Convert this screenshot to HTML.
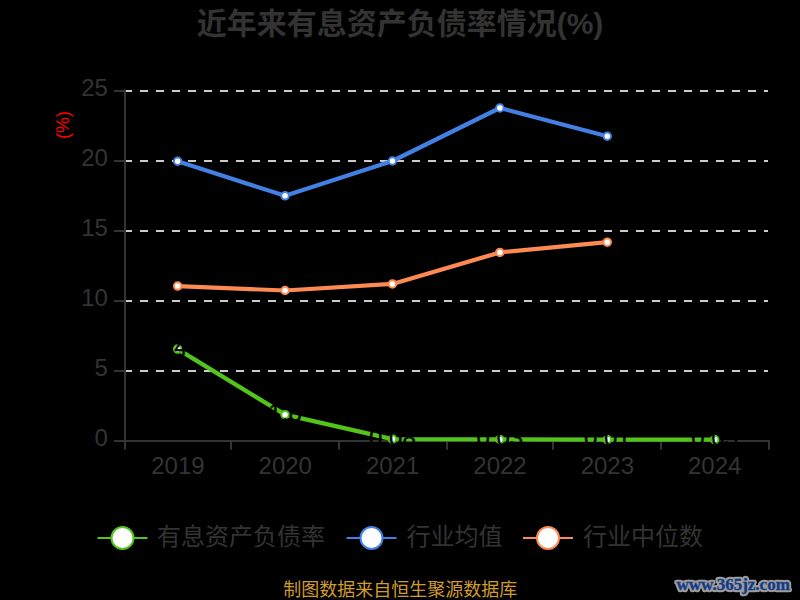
<!DOCTYPE html>
<html lang="zh-CN">
<head>
<meta charset="utf-8">
<title>近年来有息资产负债率情况(%)</title>
<style>
html,body{margin:0;padding:0;background:#000;}
body{width:800px;height:600px;overflow:hidden;font-family:"Liberation Sans","Noto Sans CJK SC",sans-serif;}
svg{display:block;}
svg text{font-family:"Liberation Sans","Noto Sans CJK SC",sans-serif;}
</style>
</head>
<body>
<svg width="800" height="600" viewBox="0 0 800 600" role="img" aria-label="近年来有息资产负债率情况(%)">
<defs><filter id="wmblur" x="-5%" y="-30%" width="110%" height="160%"><feGaussianBlur stdDeviation="0.75"/></filter></defs>
<rect width="800" height="600" fill="#000"/>
<g id="title"><text x="400" y="34" font-size="30" text-anchor="middle" fill="#333333" font-weight="bold">近年来有息资产负债率情况(%)</text></g>
<g id="grid" stroke="#cccccc" stroke-width="2" stroke-dasharray="8 8">
<line x1="124" y1="371" x2="768" y2="371"/>
<line x1="124" y1="301" x2="768" y2="301"/>
<line x1="124" y1="231" x2="768" y2="231"/>
<line x1="124" y1="161" x2="768" y2="161"/>
<line x1="124" y1="91" x2="768" y2="91"/>
</g>
<g id="axes" stroke="#333333" stroke-width="2" fill="none">
<path d="M125 89.3V442"/>
<path d="M114 441H770"/>
<path d="M114 371H125"/>
<path d="M114 301H125"/>
<path d="M114 231H125"/>
<path d="M114 161H125"/>
<path d="M114 91H125"/>
<path d="M125 441V449.8"/>
<path d="M231 441V449.8"/>
<path d="M339 441V449.8"/>
<path d="M447 441V449.8"/>
<path d="M553 441V449.8"/>
<path d="M661 441V449.8"/>
<path d="M769 441V449.8"/>
</g>
<g id="ylabels">
<text x="107.9" y="446" font-size="24" text-anchor="end" fill="#333333">0</text>
<text x="107.9" y="376" font-size="24" text-anchor="end" fill="#333333">5</text>
<text x="107.9" y="306" font-size="24" text-anchor="end" fill="#333333">10</text>
<text x="107.9" y="236" font-size="24" text-anchor="end" fill="#333333">15</text>
<text x="107.9" y="166" font-size="24" text-anchor="end" fill="#333333">20</text>
<text x="107.9" y="96" font-size="24" text-anchor="end" fill="#333333">25</text>
</g>
<g id="xlabels">
<text x="177.9" y="474" font-size="24" text-anchor="middle" fill="#333333">2019</text>
<text x="285.26" y="474" font-size="24" text-anchor="middle" fill="#333333">2020</text>
<text x="392.62" y="474" font-size="24" text-anchor="middle" fill="#333333">2021</text>
<text x="499.98" y="474" font-size="24" text-anchor="middle" fill="#333333">2022</text>
<text x="607.34" y="474" font-size="24" text-anchor="middle" fill="#333333">2023</text>
<text x="714.7" y="474" font-size="24" text-anchor="middle" fill="#333333">2024</text>
</g>
<g id="yname"><text x="0" y="0" font-size="18" text-anchor="start" fill="#ff0000" transform="translate(68.7 139) rotate(-90)">(%)</text></g>
<g id="s-blue">
<polyline points="177.65,161.25 285.05,195.85 392.45,161 499.85,108 607.25,136.25" fill="none" stroke="#4380e4" stroke-width="4.2" stroke-linejoin="bevel"/>
<circle cx="177.65" cy="161.25" r="3.75" fill="#fff" stroke="#4380e4" stroke-width="2"/>
<circle cx="285.05" cy="195.85" r="3.75" fill="#fff" stroke="#4380e4" stroke-width="2"/>
<circle cx="392.45" cy="161" r="3.75" fill="#fff" stroke="#4380e4" stroke-width="2"/>
<circle cx="499.85" cy="108" r="3.75" fill="#fff" stroke="#4380e4" stroke-width="2"/>
<circle cx="607.25" cy="136.25" r="3.75" fill="#fff" stroke="#4380e4" stroke-width="2"/>
</g>
<g id="s-orange">
<polyline points="177.65,286.1 285.05,290.5 392.45,283.9 499.85,252.4 607.25,242.2" fill="none" stroke="#fc8a52" stroke-width="4.2" stroke-linejoin="bevel"/>
<circle cx="177.65" cy="286.1" r="3.75" fill="#fff" stroke="#fc8a52" stroke-width="2"/>
<circle cx="285.05" cy="290.5" r="3.75" fill="#fff" stroke="#fc8a52" stroke-width="2"/>
<circle cx="392.45" cy="283.9" r="3.75" fill="#fff" stroke="#fc8a52" stroke-width="2"/>
<circle cx="499.85" cy="252.4" r="3.75" fill="#fff" stroke="#fc8a52" stroke-width="2"/>
<circle cx="607.25" cy="242.2" r="3.75" fill="#fff" stroke="#fc8a52" stroke-width="2"/>
</g>
<g id="s-green">
<polyline points="177.65,349.1 285.05,414.65 392.45,439.1 499.85,439.45 607.25,439.6 714.65,439.55" fill="none" stroke="#52c41a" stroke-width="4.2" stroke-linejoin="bevel"/>
<circle cx="177.65" cy="349.1" r="3.75" fill="#fff" stroke="#52c41a" stroke-width="2"/>
<circle cx="285.05" cy="414.65" r="3.75" fill="#fff" stroke="#52c41a" stroke-width="2"/>
<circle cx="392.45" cy="439.1" r="3.75" fill="#fff" stroke="#52c41a" stroke-width="2"/>
<circle cx="499.85" cy="439.45" r="3.75" fill="#fff" stroke="#52c41a" stroke-width="2"/>
<circle cx="607.25" cy="439.6" r="3.75" fill="#fff" stroke="#52c41a" stroke-width="2"/>
<circle cx="714.65" cy="439.55" r="3.75" fill="#fff" stroke="#52c41a" stroke-width="2"/>
</g>
<g id="glabels">
<text x="177.65" y="354.7" font-size="24" text-anchor="middle" fill="#000" stroke="#000" stroke-width="0.35">6.45</text>
<text x="285.05" y="421.05" font-size="24" text-anchor="middle" fill="#000" stroke="#000" stroke-width="0.35">1.8</text>
<text x="392.45" y="445.5" font-size="24" text-anchor="middle" fill="#000" stroke="#000" stroke-width="0.35">0.08</text>
<text x="499.85" y="445.85" font-size="24" text-anchor="middle" fill="#000" stroke="#000" stroke-width="0.35">0.03</text>
<text x="607.25" y="446" font-size="24" text-anchor="middle" fill="#000" stroke="#000" stroke-width="0.35">0.01</text>
<text x="714.65" y="445.95" font-size="24" text-anchor="middle" fill="#000" stroke="#000" stroke-width="0.35">0.03</text>
</g>
<g id="legend">
<path d="M97.5 538H147.5" stroke="#52c41a" stroke-width="2"/>
<circle cx="122.5" cy="538" r="11" fill="#fff" stroke="#52c41a" stroke-width="2"/>
<text x="157" y="545" font-size="24" text-anchor="start" fill="#333333">有息资产负债率</text>
<path d="M346.5 538H396.5" stroke="#4380e4" stroke-width="2"/>
<circle cx="371.5" cy="538" r="11" fill="#fff" stroke="#4380e4" stroke-width="2"/>
<text x="406.5" y="545" font-size="24" text-anchor="start" fill="#333333">行业均值</text>
<path d="M523 538H573" stroke="#fc8a52" stroke-width="2"/>
<circle cx="548" cy="538" r="11" fill="#fff" stroke="#fc8a52" stroke-width="2"/>
<text x="583" y="545" font-size="24" text-anchor="start" fill="#333333">行业中位数</text>
</g>
<g id="footer"><text x="400.2" y="596" font-size="18" text-anchor="middle" fill="#d09a2e">制图数据来自恒生聚源数据库</text></g>
<g id="watermark">
<text x="676.5" y="590" font-size="17" text-anchor="start" fill="none" stroke="#9c9c9c" stroke-width="4.7" stroke-linejoin="round" filter="url(#wmblur)" font-weight="bold" style="font-family:'Liberation Serif',serif">www.365jz.com</text>
<text x="676.5" y="590" font-size="17" text-anchor="start" fill="#123a86" stroke="#123a86" stroke-width="0.3" stroke-linejoin="round" font-weight="bold" style="font-family:'Liberation Serif',serif">www.365jz.com</text>
</g>
</svg>
</body>
</html>
